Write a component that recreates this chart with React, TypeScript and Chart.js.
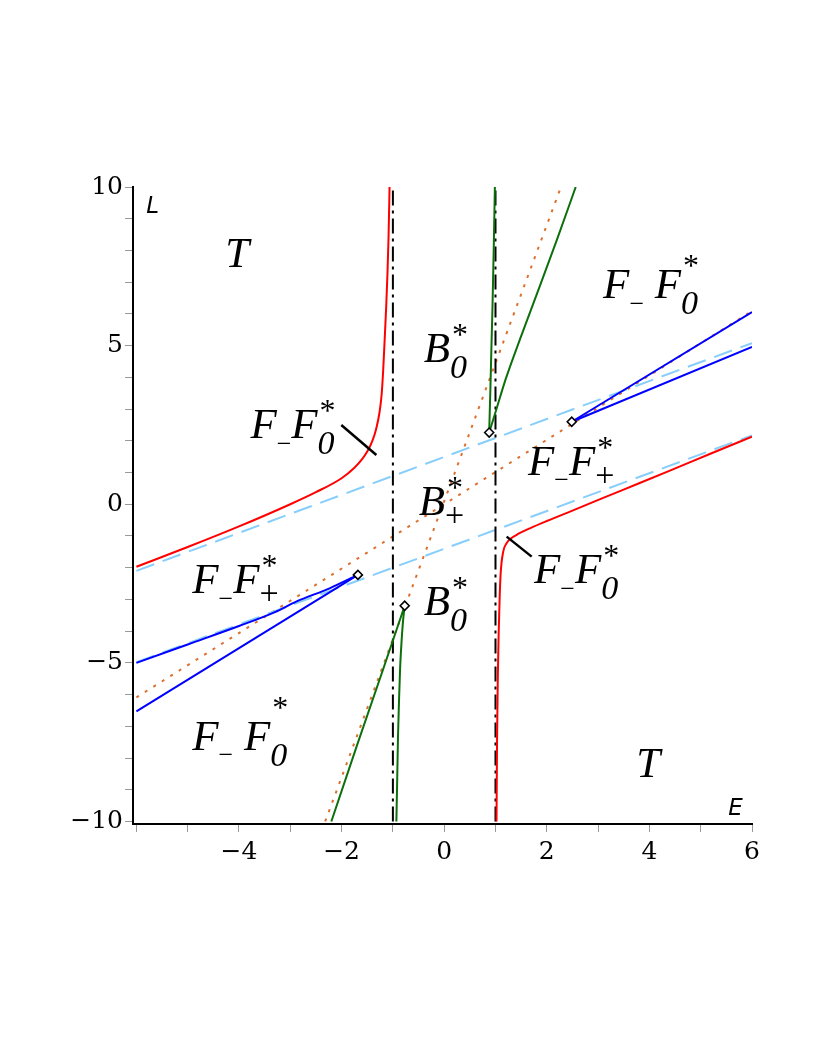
import React, { useEffect, useRef } from "react";
import { Chart, registerables } from "chart.js";

Chart.register(...registerables);

type P = [number, number];

// ---- axes ----
const xTicks = [-6, -5, -4, -3, -2, -1, 0, 1, 2, 3, 4, 5, 6];
const yTicks = [-10, -9, -8, -7, -6, -5, -4, -3, -2, -1, 0, 1, 2, 3, 4, 5, 6, 7, 8, 9, 10];
const xLabelled = [-4, -2, 0, 2, 4, 6];
const yLabelled = [-10, -5, 0, 5, 10];

// ---- series (E, L) ----
const redLeft: P[] = [
  [-6, -1.97], [-5, -1.35], [-4, -0.7], [-3, 0.0], [-2.5, 0.38], [-2, 0.82], [-1.75, 1.15],
  [-1.6, 1.42], [-1.5, 1.66], [-1.4, 2.0], [-1.33, 2.35], [-1.26, 2.9], [-1.22, 3.45],
  [-1.19, 4.2], [-1.16, 5.2], [-1.13, 6.25], [-1.105, 7.3], [-1.085, 8.4], [-1.065, 10],
];
const redRight: P[] = [
  [1.02, -10], [1.03, -7.5], [1.045, -5.5], [1.06, -4.2], [1.08, -3.0], [1.1, -2.2],
  [1.15, -1.5], [1.22, -1.22], [1.3, -1.08], [1.45, -0.93], [1.67, -0.76], [2.0, -0.53],
  [2.5, -0.2], [3.1, 0.2], [3.8, 0.66], [4.4, 1.06], [5.2, 1.6], [6, 2.13],
];
const greenUpperSteep: P[] = [
  [0.877, 2.26], [0.9, 3.6], [0.92, 4.9], [0.943, 6.33], [0.965, 8.0], [0.988, 10],
];
const greenUpperSlant: P[] = [
  [0.877, 2.26], [1.0, 2.9], [1.2, 3.95], [1.5, 5.3], [1.8, 6.6], [2.2, 8.35], [2.564, 10],
];
const greenLowerSteep: P[] = [
  [-0.932, -10], [-0.915, -8.6], [-0.9, -7.3], [-0.88, -6.17], [-0.86, -5.2], [-0.83, -4.3],
  [-0.8, -3.64], [-0.77, -3.2],
];
const greenLowerSlant: P[] = [[-2.2, -10], [-1.7, -7.6], [-1.2, -5.25], [-0.77, -3.2]];
const blueLeftUpper: P[] = [
  [-6, -5.0], [-5, -4.42], [-4, -3.84], [-3.3, -3.4], [-2.885, -3.07], [-2.234, -2.65], [-1.682, -2.228],
];
const blueLeftLower: P[] = [[-6, -6.53], [-1.682, -2.228]];
const blueRightUpper: P[] = [[2.486, 2.6], [6, 6.06]];
const blueRightLower: P[] = [[2.486, 2.6], [6, 4.96]];
const dottedShallow: P[] = [[-6, -6.09], [6, 6.09]];
const dottedSteep: P[] = [[-2.32, -10], [2.276, 10]];
const dashedUpper: P[] = [[-6, -2.1], [6, 5.08]];
const dashedLower: P[] = [[-6, -4.98], [6, 2.17]];
const dashDotLeft: P[] = [[-1, -10], [-1, 10]];
const dashDotRight: P[] = [[1, -10], [1, 10]];
const pointerLeft: P[] = [[-2.006, 2.498], [-1.322, 1.553]];
const pointerRight: P[] = [[1.217, -1.021], [1.705, -1.651]];
const diamonds: P[] = [[0.877, 2.26], [-0.77, -3.2], [-1.682, -2.228], [2.486, 2.6]];

// ---- region labels ----
type Part = { m: string; sub?: string; sup?: string };
const T_: Part[] = [{ m: "T" }];
const B0: Part[] = [{ m: "B", sub: "0", sup: "*" }];
const Bp: Part[] = [{ m: "B", sub: "+", sup: "*" }];
const FF0: Part[] = [{ m: "F", sub: "−" }, { m: "F", sub: "0", sup: "*" }];
const FsF0: Part[] = [{ m: "F", sub: "−" }, { m: " " }, { m: "F", sub: "0", sup: "*" }];
const FFp: Part[] = [{ m: "F", sub: "−" }, { m: "F", sub: "+", sup: "*" }];

const regionLabels: { E: number; L: number; parts: Part[]; supDy?: number }[] = [
  { E: -4.266, L: 7.467, parts: T_ },
  { E: -0.398, L: 4.49, parts: B0 },
  { E: 3.098, L: 6.5, parts: FsF0, supDy: -22 },
  { E: -3.777, L: 2.079, parts: FF0 },
  { E: -0.496, L: -0.337, parts: Bp },
  { E: 1.633, L: 0.923, parts: FFp },
  { E: -4.91, L: -2.804, parts: FFp },
  { E: -0.398, L: -3.488, parts: B0 },
  { E: 1.75, L: -2.489, parts: FF0 },
  { E: -4.91, L: -7.741, parts: FsF0, supDy: -32 },
  { E: 3.742, L: -8.586, parts: T_ },
];
const axisTitles = [
  { E: -5.809, L: 9.178, text: "L" },
  { E: 5.539, L: -9.789, text: "E" },
];

const SERIF = '"Liberation Serif", "Times New Roman", serif';
const TICK_FONT = '"DejaVu Serif", serif';
const MAIN_FONT = `italic 43px ${SERIF}`;

const toXY = (a: P[]) => a.map(([x, y]) => ({ x, y }));
const fmt = (v: number) => (v < 0 ? "−" + Math.abs(v) : String(v));

function line(data: P[], color: string, extra: any = {}) {
  return {
    data: toXY(data),
    showLine: true,
    borderColor: color,
    backgroundColor: color,
    borderWidth: 2,
    pointRadius: 0,
    pointHoverRadius: 0,
    fill: false,
    tension: 0,
    ...extra,
  };
}

const labelPlugin = {
  id: "regionLabels",
  afterDatasetsDraw(chart: any) {
    const { ctx, scales } = chart;
    const xs = scales.x;
    const ys = scales.y;
    ctx.save();
    ctx.fillStyle = "#000";
    ctx.textBaseline = "alphabetic";
    ctx.textAlign = "left";
    for (const lab of regionLabels) {
      let cx = xs.getPixelForValue(lab.E);
      const by = ys.getPixelForValue(lab.L);
      for (const p of lab.parts) {
        ctx.font = MAIN_FONT;
        ctx.fillText(p.m, cx, by);
        cx += ctx.measureText(p.m).width;
        let adv = 0;
        if (p.sub) {
          let f = `italic 34px ${SERIF}`;
          let dy = 16;
          if (p.sub === "−") {
            f = `normal 26px ${SERIF}`;
            dy = 13.5;
          } else if (p.sub === "+") {
            f = `normal 34px ${SERIF}`;
            dy = 11;
          }
          ctx.font = f;
          ctx.fillText(p.sub, cx, by + dy);
          adv = Math.max(adv, ctx.measureText(p.sub).width);
        }
        if (p.sup) {
          ctx.font = `normal 32px ${SERIF}`;
          ctx.fillText(p.sup, cx + 2, by + (lab.supDy ?? -17));
          adv = Math.max(adv, ctx.measureText(p.sup).width + 2);
        }
        cx += adv;
      }
    }
    ctx.font = 'italic 23px "DejaVu Sans", sans-serif';
    for (const t of axisTitles) {
      ctx.fillText(t.text, xs.getPixelForValue(t.E), ys.getPixelForValue(t.L));
    }
    ctx.restore();
  },
};

export default function App() {
  const ref = useRef<HTMLCanvasElement>(null);
  useEffect(() => {
    const canvas = ref.current;
    if (!canvas) return;
    const orange = "#dc7030";
    const lightBlue = "#87cefa";
    const green = "#0b700b";
    const chart = new Chart(canvas, {
      type: "scatter",
      data: {
        datasets: [
          line(diamonds, "#000", {
            showLine: false,
            pointRadius: 4.5,
            pointStyle: "rectRot",
            pointBackgroundColor: "#fff",
            pointBorderColor: "#000",
            pointBorderWidth: 1.6,
          }),
          line(pointerLeft, "#000", { borderWidth: 2.5 }),
          line(pointerRight, "#000", { borderWidth: 2.5 }),
          line(blueLeftUpper, "#0000ff", { cubicInterpolationMode: "monotone" }),
          line(blueLeftLower, "#0000ff"),
          line(blueRightUpper, "#0000ff"),
          line(blueRightLower, "#0000ff"),
          line(greenUpperSteep, green, { cubicInterpolationMode: "monotone" }),
          line(greenUpperSlant, green, { cubicInterpolationMode: "monotone" }),
          line(greenLowerSteep, green, { cubicInterpolationMode: "monotone" }),
          line(greenLowerSlant, green),
          line(redLeft, "#ff0000", { cubicInterpolationMode: "monotone" }),
          line(redRight, "#ff0000", { cubicInterpolationMode: "monotone" }),
          line(dashDotLeft, "#000", { borderDash: [15, 5, 3, 5] }),
          line(dashDotRight, "#000", { borderDash: [15, 5, 3, 5] }),
          line(dashedUpper, lightBlue, { borderDash: [19, 9] }),
          line(dashedLower, lightBlue, { borderDash: [19, 9] }),
          line(dottedShallow, orange, { borderDash: [3, 7] }),
          line(dottedSteep, orange, { borderDash: [3, 7] }),
        ],
      },
      options: {
        animation: false,
        responsive: false,
        devicePixelRatio: 1,
        events: [],
        layout: { padding: { left: 0, right: 70, top: 187, bottom: 0 } },
        plugins: { legend: { display: false }, tooltip: { enabled: false } },
        scales: {
          x: {
            type: "linear",
            min: -6.066,
            max: 6,
            afterBuildTicks: (s: any) => {
              s.ticks = xTicks.map((v) => ({ value: v }));
            },
            afterFit: (s: any) => {
              s.height = 240;
            },
            grid: { drawOnChartArea: false, drawTicks: true, tickLength: 8, color: "#999", tickColor: "#999" },
            border: { display: true, color: "#000", width: 2 },
            ticks: {
              autoSkip: false,
              maxRotation: 0,
              padding: 5,
              color: "#000",
              font: { family: TICK_FONT, size: 25 },
              callback: (v: any) => (xLabelled.includes(Number(v)) ? fmt(Number(v)) : ""),
            },
          },
          y: {
            type: "linear",
            min: -10.08,
            max: 10,
            afterBuildTicks: (s: any) => {
              s.ticks = yTicks.map((v) => ({ value: v }));
            },
            afterFit: (s: any) => {
              s.width = 133;
            },
            grid: { drawOnChartArea: false, drawTicks: true, tickLength: 8, color: "#999", tickColor: "#999" },
            border: { display: true, color: "#000", width: 2 },
            ticks: {
              autoSkip: false,
              padding: 2,
              color: "#000",
              font: { family: TICK_FONT, size: 25 },
              callback: (v: any) => (yLabelled.includes(Number(v)) ? fmt(Number(v)) : ""),
            },
          },
        },
      },
      plugins: [labelPlugin],
    } as any);
    return () => chart.destroy();
  }, []);
  return (
    <div style={{ position: "absolute", left: 0, top: 0, width: 822, height: 1064, background: "#fff" }}>
      <canvas ref={ref} width={822} height={1064} style={{ display: "block", width: 822, height: 1064 }} />
    </div>
  );
}
